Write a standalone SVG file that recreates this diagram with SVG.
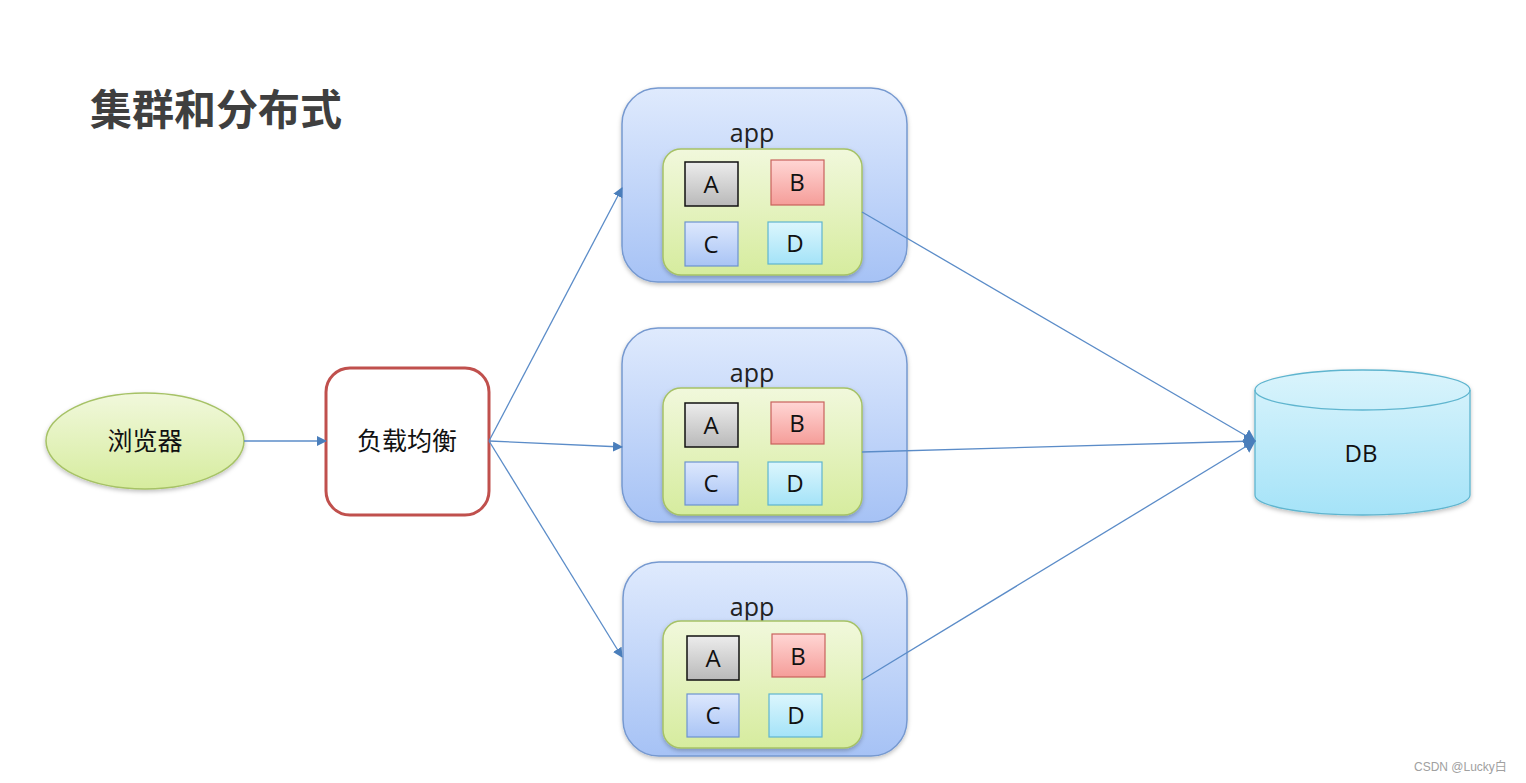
<svg xmlns="http://www.w3.org/2000/svg" width="1526" height="783" viewBox="0 0 1526 783">
<defs>
<linearGradient id="gApp" x1="0" y1="0" x2="0" y2="1"><stop offset="0" stop-color="#dfeafd"/><stop offset="1" stop-color="#a6c2f5"/></linearGradient>
<linearGradient id="gGreen" x1="0" y1="0" x2="0" y2="1"><stop offset="0" stop-color="#f1f8dc"/><stop offset="1" stop-color="#d6ec9e"/></linearGradient>
<linearGradient id="gA" x1="0" y1="0" x2="0" y2="1"><stop offset="0" stop-color="#ececec"/><stop offset="1" stop-color="#b9b9b9"/></linearGradient>
<linearGradient id="gB" x1="0" y1="0" x2="0" y2="1"><stop offset="0" stop-color="#ffd6d4"/><stop offset="1" stop-color="#f59d99"/></linearGradient>
<linearGradient id="gC" x1="0" y1="0" x2="0" y2="1"><stop offset="0" stop-color="#dde8fd"/><stop offset="1" stop-color="#a9c4f5"/></linearGradient>
<linearGradient id="gD" x1="0" y1="0" x2="0" y2="1"><stop offset="0" stop-color="#dcf6fd"/><stop offset="1" stop-color="#a4e3f8"/></linearGradient>
<linearGradient id="gDB" x1="0" y1="0" x2="0" y2="1"><stop offset="0" stop-color="#daf4fc"/><stop offset="1" stop-color="#a5e3f8"/></linearGradient>
<filter id="sh" x="-10%" y="-10%" width="120%" height="130%"><feDropShadow dx="0" dy="2" stdDeviation="2" flood-color="#000" flood-opacity="0.25"/></filter>
<marker id="arr" markerWidth="10" markerHeight="10" refX="9" refY="5" orient="auto" markerUnits="userSpaceOnUse"><path d="M0,0 L10,5 L0,10 z" fill="#4a7ebb"/></marker>
<marker id="arrDB" markerWidth="12" markerHeight="14" refX="11" refY="7" orient="auto" markerUnits="userSpaceOnUse"><path d="M0,0 L12,7 L0,14 z" fill="#4a7ebb"/></marker>
</defs>
<style>
.app{fill:url(#gApp);stroke:#7699d0;stroke-width:1.5}
.grn{fill:url(#gGreen);stroke:#a6c266;stroke-width:1.5}
.bA{fill:url(#gA);stroke:#111;stroke-width:1.5}
.bB{fill:url(#gB);stroke:#c9625d;stroke-width:1.2}
.bC{fill:url(#gC);stroke:#6d93cf;stroke-width:1.2}
.bD{fill:url(#gD);stroke:#5fb5cf;stroke-width:1.2}
.lbl{font-family:"Open Sans","Noto Sans",sans-serif;font-size:24px;fill:#111;text-anchor:middle}
.appt{font-family:"Open Sans","Noto Sans",sans-serif;font-size:25px;fill:#222;text-anchor:middle}
.cn{font-family:"Noto Sans CJK SC",sans-serif;font-size:25px;fill:#111;text-anchor:middle}
.con{fill:none;stroke:#5b8cc8;stroke-width:1.3}
</style>
<rect width="1526" height="783" fill="#ffffff"/>
<text x="90" y="125" font-family="'Noto Sans CJK SC',sans-serif" font-size="42" font-weight="bold" fill="#3f3f3f">集群和分布式</text>

<g id="browser">
<ellipse cx="145" cy="441" rx="99" ry="48" fill="url(#gGreen)" stroke="#a6c266" stroke-width="1.5" filter="url(#sh)"/>
<text class="cn" x="145" y="450">浏览器</text>
</g>

<g id="lb">
<rect x="326" y="368" width="163" height="147" rx="24" fill="#ffffff" stroke="#c0504d" stroke-width="3"/>
<text class="cn" x="407" y="450">负载均衡</text>
</g>

<g id="app1">
<rect class="app" x="622" y="88" width="285" height="194" rx="36" filter="url(#sh)"/>
<text class="appt" x="752" y="142">app</text>
<rect class="grn" x="663" y="149" width="199" height="126" rx="18" filter="url(#sh)"/>
<rect class="bA" x="685" y="162" width="53" height="44"/><text class="lbl" x="711" y="193">A</text>
<rect class="bB" x="771" y="160" width="53" height="45"/><text class="lbl" x="797" y="191">B</text>
<rect class="bC" x="685" y="222" width="53" height="44"/><text class="lbl" x="711" y="253">C</text>
<rect class="bD" x="768" y="222" width="54" height="42"/><text class="lbl" x="795" y="252">D</text>
</g>

<g id="app2">
<rect class="app" x="622" y="328" width="285" height="194" rx="36" filter="url(#sh)"/>
<text class="appt" x="752" y="382">app</text>
<rect class="grn" x="663" y="388" width="199" height="127" rx="18" filter="url(#sh)"/>
<rect class="bA" x="685" y="403" width="53" height="44"/><text class="lbl" x="711" y="434">A</text>
<rect class="bB" x="771" y="402" width="53" height="42"/><text class="lbl" x="797" y="432">B</text>
<rect class="bC" x="685" y="462" width="53" height="43"/><text class="lbl" x="711" y="492">C</text>
<rect class="bD" x="768" y="462" width="54" height="43"/><text class="lbl" x="795" y="492">D</text>
</g>

<g id="app3">
<rect class="app" x="623" y="562" width="284" height="194" rx="36" filter="url(#sh)"/>
<text class="appt" x="752" y="616">app</text>
<rect class="grn" x="663" y="621" width="199" height="127" rx="18" filter="url(#sh)"/>
<rect class="bA" x="687" y="636" width="52" height="44"/><text class="lbl" x="713" y="667">A</text>
<rect class="bB" x="772" y="634" width="53" height="43"/><text class="lbl" x="798" y="665">B</text>
<rect class="bC" x="687" y="694" width="52" height="43"/><text class="lbl" x="713" y="724">C</text>
<rect class="bD" x="769" y="694" width="53" height="43"/><text class="lbl" x="796" y="724">D</text>
</g>

<g id="db">
<path d="M1255,390 L1255,495 A107.5,20 0 0 0 1470,495 L1470,390 A107.5,20 0 0 0 1255,390 Z" fill="url(#gDB)" stroke="#5fb5cf" stroke-width="1.3" filter="url(#sh)"/>
<path d="M1255,390 A107.5,20 0 0 0 1470,390" fill="none" stroke="#5fb5cf" stroke-width="1.3"/>
<text class="lbl" x="1361" y="462" font-size="26">DB</text>
</g>

<g id="connectors">
<line class="con" x1="244" y1="441" x2="326" y2="441" marker-end="url(#arr)"/>
<line class="con" x1="489" y1="441" x2="622" y2="188" marker-end="url(#arr)"/>
<line class="con" x1="489" y1="441" x2="622" y2="447" marker-end="url(#arr)"/>
<line class="con" x1="489" y1="441" x2="622" y2="657" marker-end="url(#arr)"/>
<line class="con" x1="862" y1="212" x2="1255" y2="441" marker-end="url(#arrDB)"/>
<line class="con" x1="862" y1="452" x2="1255" y2="441" marker-end="url(#arrDB)"/>
<line class="con" x1="862" y1="680" x2="1255" y2="441" marker-end="url(#arrDB)"/>
</g>

<text x="1414" y="771" font-family="'Liberation Sans','Noto Sans CJK SC',sans-serif" font-size="12" fill="#a0a0a0">CSDN @Lucky白</text>
</svg>
